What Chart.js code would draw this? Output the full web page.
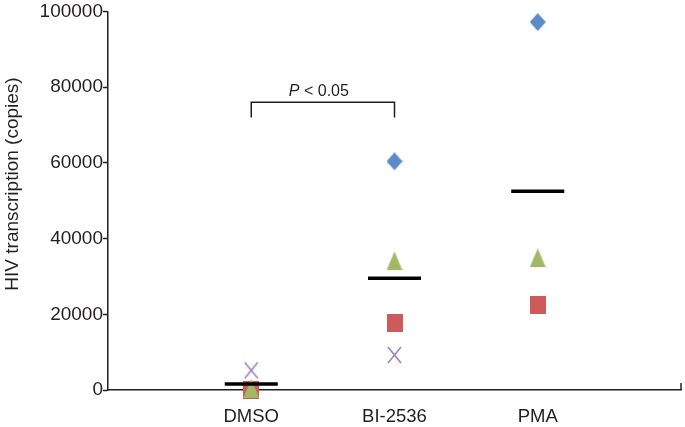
<!DOCTYPE html>
<html>
<head>
<meta charset="utf-8">
<script src="https://cdn.jsdelivr.net/npm/chart.js@4"></script>
<style>
  html, body { margin: 0; padding: 0; background: #fff; }
  #wrap { width: 685px; height: 427px; }
</style>
</head>
<body>
<div id="wrap"><canvas id="grafico" width="685" height="427"></canvas></div>
<script>
// data
const categories = ['DMSO', 'BI-2536', 'PMA'];
const diamondValues = [null, 60400, 97200];
const squareValues = [0, 17600, 22400];
const triangleValues = [400, 34100, 34900];
const crossValues = [5200, 9250, null];
const meanValues = [1600, 29500, 52500];
const yTicks = [0, 20000, 40000, 60000, 80000, 100000];
const sigGroups = [1, 2];
const sigBottom = 72000;
const sigTop = 76000;
const sigLabel = ['P', ' < 0.05'];
const yTitle = 'HIV transcription (copies)';

const FONT = '"Liberation Sans", Arial, Helvetica, sans-serif';
const INK = '#231f20';

function marker(w, h, draw) {
  const c = document.createElement('canvas');
  c.width = w; c.height = h;
  draw(c.getContext('2d'), w, h);
  return c;
}

const diamond = marker(16, 18, (g, w, h) => {
  g.fillStyle = '#5b8cc8';
  g.beginPath();
  g.moveTo(w / 2, 0); g.lineTo(w, h / 2); g.lineTo(w / 2, h); g.lineTo(0, h / 2);
  g.closePath(); g.fill();
});
const square = marker(16, 18, (g, w, h) => {
  g.fillStyle = '#cd5b5a';
  g.fillRect(0, 0, w, h);
});
const triangle = marker(16, 19, (g, w, h) => {
  g.fillStyle = '#a2b864';
  g.beginPath();
  g.moveTo(w / 2, 0); g.lineTo(w, h); g.lineTo(0, h);
  g.closePath(); g.fill();
});
const cross = marker(15, 18, (g, w, h) => {
  g.strokeStyle = '#9a80c6';
  g.lineWidth = 1.6;
  g.beginPath();
  g.moveTo(1, 1); g.lineTo(w - 1, h - 1);
  g.moveTo(w - 1, 1); g.lineTo(1, h - 1);
  g.stroke();
});

function pts(values) {
  const out = [];
  values.forEach((v, i) => { if (v !== null) out.push({ x: i + 1, y: v }); });
  return out;
}

function markerSet(values, style, order) {
  return {
    data: pts(values), pointStyle: style, pointRadius: 9, pointHoverRadius: 9,
    showLine: false, clip: false, order: order
  };
}

const halfWidth = 0.185;
const meanSets = meanValues.map((m, i) => ({
  data: [{ x: i + 1 - halfWidth, y: m }, { x: i + 1 + halfWidth, y: m }],
  showLine: true, borderColor: '#000', borderWidth: 3.5, pointRadius: 0,
  clip: false, order: 3
}));

const bracket = {
  data: [
    { x: sigGroups[0], y: sigBottom }, { x: sigGroups[0], y: sigTop },
    { x: sigGroups[1], y: sigTop }, { x: sigGroups[1], y: sigBottom }
  ],
  showLine: true, borderColor: INK, borderWidth: 1.5, pointRadius: 0, order: 1
};

const extras = {
  id: 'extras',
  afterDraw(chart) {
    const ctx = chart.ctx;
    const x = chart.scales.x, y = chart.scales.y;
    ctx.save();
    // y axis title
    ctx.fillStyle = INK;
    ctx.font = '19px ' + FONT;
    ctx.textAlign = 'center';
    ctx.textBaseline = 'middle';
    ctx.translate(13, 184);
    ctx.rotate(-Math.PI / 2);
    ctx.fillText(yTitle, 0, 0);
    ctx.restore();

    // closing tick at the right end of the x axis
    ctx.save();
    ctx.strokeStyle = INK;
    ctx.lineWidth = 1.5;
    ctx.beginPath();
    ctx.moveTo(x.right, y.bottom);
    ctx.lineTo(x.right, y.bottom - 7);
    ctx.stroke();

    // significance label
    const cx = (x.getPixelForValue(sigGroups[0]) + x.getPixelForValue(sigGroups[1])) / 2 - 4;
    const by = y.getPixelForValue(sigTop) - 6;
    ctx.fillStyle = INK;
    ctx.textBaseline = 'alphabetic';
    ctx.textAlign = 'left';
    ctx.font = 'italic 16px ' + FONT;
    const w1 = ctx.measureText(sigLabel[0]).width;
    ctx.font = '16px ' + FONT;
    const w2 = ctx.measureText(sigLabel[1]).width;
    let sx = cx - (w1 + w2) / 2;
    ctx.font = 'italic 16px ' + FONT;
    ctx.fillText(sigLabel[0], sx, by);
    ctx.font = '16px ' + FONT;
    ctx.fillText(sigLabel[1], sx + w1, by);
    ctx.restore();
  }
};

new Chart(document.getElementById('grafico').getContext('2d'), {
  type: 'scatter',
  data: {
    datasets: [
      markerSet(diamondValues, diamond, 6),
      markerSet(squareValues, square, 5),
      markerSet(triangleValues, triangle, 4),
      ...meanSets,
      markerSet(crossValues, cross, 2),
      bracket
    ]
  },
  options: {
    responsive: false,
    animation: false,
    layout: { autoPadding: false, padding: { top: 10, right: 4, left: 0, bottom: 0 } },
    plugins: { legend: { display: false }, tooltip: { enabled: false } },
    scales: {
      x: {
        type: 'linear', min: 0, max: 4,
        afterBuildTicks: s => { s.ticks = [0, 1, 2, 3, 4].map(v => ({ value: v })); },
        afterFit: s => { s.height = 37; s.paddingRight = 0; s.paddingLeft = 0; },
        grid: { display: true, drawOnChartArea: false, drawTicks: false },
        border: { color: INK, width: 1.5 },
        ticks: {
          color: INK, padding: 16, maxRotation: 0, autoSkip: false,
          font: { family: FONT, size: 18.5 },
          callback: v => categories[v - 1] || ''
        }
      },
      y: {
        min: 0, max: 100000,
        afterBuildTicks: s => { s.ticks = yTicks.map(v => ({ value: v })); },
        afterFit: s => { s.width = 108; },
        grid: { drawOnChartArea: false, drawTicks: true, tickLength: 5, color: INK, tickWidth: 1.5 },
        border: { color: INK, width: 1.5 },
        ticks: {
          color: INK, padding: 0,
          font: { family: FONT, size: 19 },
          callback: v => String(v)
        }
      }
    }
  },
  plugins: [extras]
});
</script>
</body>
</html>
